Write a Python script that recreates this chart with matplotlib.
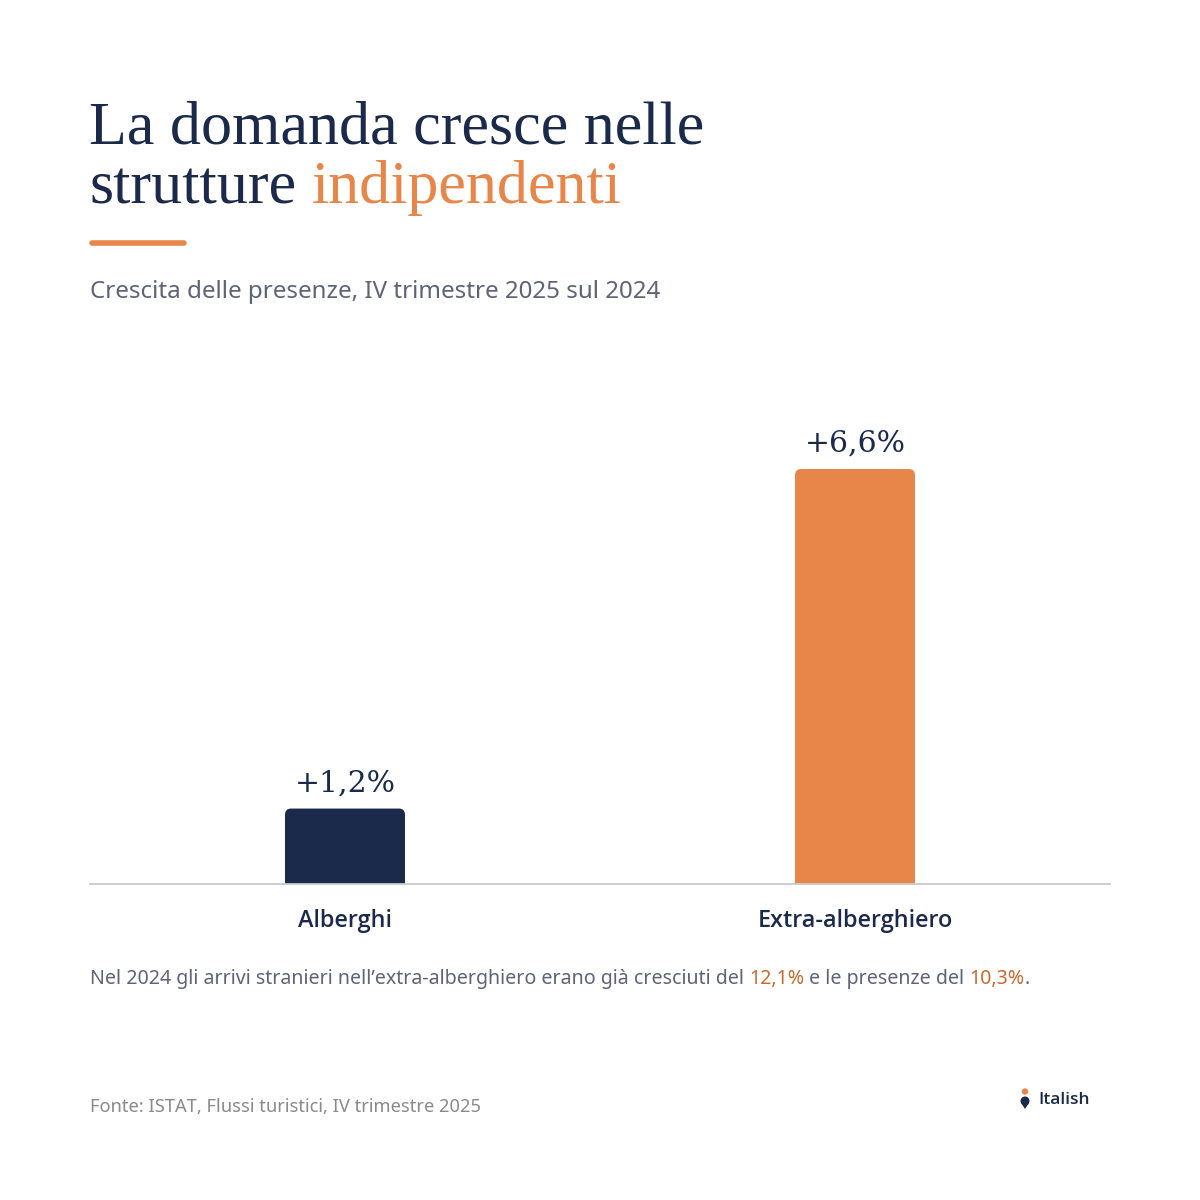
import matplotlib
matplotlib.use('Agg')
import matplotlib.pyplot as plt
from matplotlib.patches import FancyBboxPatch, Circle, Ellipse, Polygon

categories = ['Alberghi', 'Extra-alberghiero']
values = [1.2, 6.6]
value_labels = ['+1,2%', '+6,6%']

title_1 = 'La domanda cresce nelle'
title_2a = 'strutture'
title_2b = 'indipendenti'
subtitle = 'Crescita delle presenze, IV trimestre 2025 sul 2024'
note_runs = [('Nel 2024 gli arrivi stranieri nell\u2019extra-alberghiero erano già cresciuti del ', 'g'),
             ('12,1%', 'o'), (' e le presenze del ', 'g'), ('10,3%', 'o'), ('.', 'g')]
source = 'Fonte: ISTAT, Flussi turistici, IV trimestre 2025'
brand = 'Italish'

NAVY = '#1b2a4a'
ORANGE = '#e8864a'
DARK_OR = '#c96a2c'
GRAY = '#5f6378'
LIGHT = '#8a8a8a'
SERIF = ['Liberation Serif', 'DejaVu Serif']
SANS = ['Noto Sans', 'DejaVu Sans']
BOLD_SANS = ['Open Sans', 'DejaVu Sans']

fig = plt.figure(figsize=(12, 12), dpi=100)
fig.patch.set_facecolor('white')

# overlay in pixel coords (y down) for the text and decorations
ov = fig.add_axes([0, 0, 1, 1])
ov.set_xlim(0, 1200)
ov.set_ylim(1200, 0)
ov.axis('off')

# chart axes
ax = fig.add_axes([90 / 1200, (1200 - 884) / 1200, 1020 / 1200, 503 / 1200])
ax.set_xlim(-0.5, 1.5)
ax.set_ylim(0, 8)
for s in ['top', 'right', 'left']:
    ax.spines[s].set_visible(False)
ax.spines['bottom'].set_color('#c9c9c9')
ax.spines['bottom'].set_linewidth(1.3)
ax.set_yticks([])
ax.set_xticks([])

bars = ax.bar(range(len(values)), values, width=120 / 510, color=[NAVY, ORANGE])
for b, c in zip(bars, [NAVY, ORANGE]):
    x0, w, h = b.get_x(), b.get_width(), b.get_height()
    b.remove()
    ax.add_patch(FancyBboxPatch((x0, -0.5), w, h + 0.5,
                                boxstyle='round,pad=0,rounding_size=0.012',
                                mutation_aspect=510 / 62.9, fc=c, ec='none'))
for i, (v, lab) in enumerate(zip(values, value_labels)):
    ax.annotate(lab, (i, v), xytext=(0, 8), textcoords='offset points',
                ha='center', va='bottom', fontsize=21.5, family=['DejaVu Serif'], color=NAVY)
    ov.text(345 + 510 * i, 921, categories[i], ha='center', va='center',
            fontsize=16.8, fontweight='semibold', family=BOLD_SANS, color=NAVY)

fig.canvas.draw()
r = fig.canvas.get_renderer()


def width_px(txt, **kw):
    t = ov.text(0, 0, txt, **kw)
    w = t.get_window_extent(r).width
    t.remove()
    return w


def runs(x, y, parts, **kw):
    sp = width_px('a a', **kw) - width_px('aa', **kw)
    for txt, col in parts:
        core = txt.strip(' ')
        lead = len(txt) - len(txt.lstrip(' '))
        trail = len(txt) - len(txt.rstrip(' '))
        x += lead * sp
        ov.text(x, y, core, color=col, va='baseline', ha='left', **kw)
        x += width_px(core, **kw) + trail * sp


tkw = dict(fontsize=44.7, family=SERIF)
ov.text(89, 143, title_1, color=NAVY, va='baseline', **tkw)
runs(89, 203, [(title_2a + ' ', NAVY), (title_2b, ORANGE)], **tkw)

ov.plot([92, 184], [243, 243], color=ORANGE, lw=4, solid_capstyle='round')

ov.text(90, 292, subtitle, color=GRAY, va='center', fontsize=17.4, family=SANS)

cmap = {'g': GRAY, 'o': DARK_OR}
runs(90, 984, [(t, cmap[c]) for t, c in note_runs], fontsize=14.1, family=SANS)

ov.text(90, 1107, source, color=LIGHT, va='center', fontsize=13.2, family=SANS)

# logo
ov.add_patch(Circle((1025, 1091.5), 3.2, fc=ORANGE, ec='none'))
ov.add_patch(Ellipse((1025, 1101), 9, 9, fc=NAVY, ec='none'))
ov.add_patch(Polygon([[1020.8, 1102.5], [1029.2, 1102.5], [1025, 1109]], fc=NAVY, ec='none'))
ov.text(1038, 1100, brand, color=NAVY, va='center', fontsize=12.5, fontweight='semibold', family=BOLD_SANS)

fig.savefig('out.png', dpi=100, facecolor='white')
